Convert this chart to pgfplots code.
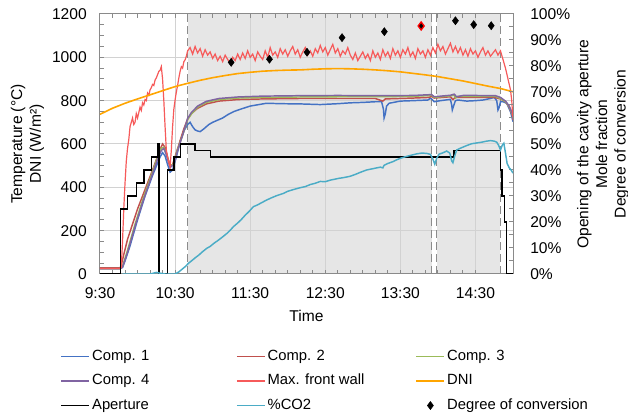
\documentclass[border=0pt]{standalone}
\usepackage{fontspec}
\setmainfont{Liberation Sans}
\usepackage{pgfplots}
\pgfplotsset{compat=1.18}

\definecolor{cone}{HTML}{4472C4}
\definecolor{ctwo}{HTML}{C0504D}
\definecolor{cthree}{HTML}{9BBB59}
\definecolor{cfour}{HTML}{8064A2}
\definecolor{cwall}{HTML}{F65A5A}
\definecolor{cdni}{HTML}{FFA500}
\definecolor{cco}{HTML}{4BACC6}
\definecolor{shade}{HTML}{E6E6E6}
\definecolor{gridc}{HTML}{D2D2D2}
\definecolor{framec}{HTML}{8A8A8A}
\definecolor{dashc}{HTML}{8C8C8C}

\begin{document}
\begin{tikzpicture}
\pgfplotsset{
  base/.style={
    width=309.75pt, height=195pt, scale only axis,
    xmin=0, xmax=330, ymin=0, ymax=1200,
    font=\fontsize{11.7}{14}\selectfont,
    /pgf/number format/assume math mode=true,
    /pgf/number format/1000 sep={},
    axis line style={framec, line width=0.75pt},
    tick style={framec, line width=0.75pt},
    tick align=inside,
    major tick length=3pt, minor tick length=3pt,
  },
  vdash/.style={dashc, line width=1.2pt, dash pattern=on 6pt off 3pt, forget plot},
}

% shaded periods (under the grid)
\begin{axis}[base, hide axis]
  \addplot[fill=shade, draw=none] coordinates {(70,0) (70,1200) (265,1200) (265,0)} -- cycle;
  \addplot[fill=shade, draw=none] coordinates {(269,0) (269,1200) (320,1200) (320,0)} -- cycle;
\end{axis}

\begin{axis}[base, name=main,
  xtick={0,60,...,300},
  xticklabels={9:30,10:30,11:30,12:30,13:30,14:30},
  minor x tick num=5,
  xtick pos=both,
  ytick={0,200,...,1200},
  minor y tick num=3,
  ytick pos=left,
  xmajorgrids, ymajorgrids,
  grid style={gridc, line width=0.75pt},
  xticklabel style={inner sep=0pt, yshift=-10pt},
  yticklabel style={inner sep=0pt, xshift=-9.75pt},
  xlabel={Time},
  xlabel style={at={(axis description cs:0.5,-0.1615)}, anchor=center},
  ylabel={Temperature (°C)\\DNI (W/m²)},
  ylabel style={at={(axis description cs:-0.1755,0.5)}, anchor=center, align=center},
  legend columns=3,
  legend cell align=left,
  legend image code/.code={\draw[mark repeat=2,mark phase=2,#1] plot coordinates {(0pt,0pt) (10.5pt,0pt) (21pt,0pt)};},
  legend style={at={(axis description cs:-0.0952,-0.29)}, anchor=north west,
    draw=none, fill=none, inner sep=0pt, outer sep=0pt,
    font=\fontsize{11.1}{13}\selectfont,
    nodes={inner sep=0pt, text height=8.2pt, text depth=2.4pt},
    row sep=7.8pt, column sep=1.5pt,
    /tikz/every even column/.append style={column sep=0pt}},
]
  \addplot[vdash] coordinates {(70,0) (70,1200)};
  \addplot[vdash] coordinates {(265,0) (265,1200)};
  \addplot[vdash] coordinates {(269,0) (269,1200)};
  \addplot[vdash] coordinates {(320,0) (320,1200)};

  % Comp. 1
  \addplot[cone, line width=1.1pt] coordinates {
    (0,25) (16,25) (18,30) (20,60) (24,130) (30,250) (36,360) (42,455) (48,540) (50,560)
    (52,545) (54,505) (56,470) (58,480) (61,540) (64,610) (67,660) (70,690) (72,700) (74,680)
    (76,665) (78,660) (80,657) (83,670) (85,680) (87,690) (90,700) (94,710) (98,720) (102,735)
    (107,750) (113,762) (120,775) (127,782) (133,788) (145,786) (160,785) (176,782) (190,786)
    (200,790) (210,792) (220,795) (225,795) (226.5,760) (227,720) (228,740) (229,775) (231,788)
    (240,798) (250,800) (262,803) (264,811) (265,808) (267,795) (272,800) (280,806) (281,780)
    (281.5,757) (282.5,775) (284,800) (286,803) (293,798) (300,800) (306,803) (312,810) (315,815)
    (317,800) (318,757) (319,770) (320,795) (322,795) (325,788) (328,749) (330,703)};
  \addlegendentry{\makebox[108pt][l]{Comp. 1}}
  % Comp. 2
  \addplot[ctwo, line width=1.1pt] coordinates {
    (0,28) (16,28) (17,40) (19,90) (22,160) (26,230) (30,300) (36,390) (42,480) (48,575)
    (50,600) (52,585) (54,540) (56,500) (58,505) (61,560) (64,615) (67,670) (70,715) (73,740)
    (78,765) (85,785) (95,798) (110,805) (130,808) (160,810) (190,810) (220,810) (226,798)
    (228,808) (250,812) (263,815) (265,820) (267,812) (280,818) (282,805) (284,815) (300,815)
    (315,815) (320,808) (324,795) (327,770) (330,725)};
  \addlegendentry{\makebox[111pt][l]{Comp. 2}}
  % Comp. 3
  \addplot[cthree, line width=1.1pt] coordinates {
    (0,25) (16,25) (18,35) (22,110) (28,230) (34,340) (40,440) (46,540) (49,580) (51,585)
    (53,555) (56,495) (59,510) (62,575) (66,640) (70,712) (73,738) (78,770) (85,792) (95,805)
    (110,812) (130,815) (160,817) (190,818) (220,818) (250,820) (264,824) (265,826) (267,815)
    (280,822) (283,826) (284,812) (286,820) (300,820) (316,820) (320,810) (324,795) (327,772)
    (330,728)};
  \addlegendentry{Comp. 3}
  % Comp. 4
  \addplot[cfour, line width=1.1pt] coordinates {
    (0,25) (16,25) (18,32) (22,100) (28,220) (34,330) (40,430) (46,530) (49,570) (51,580)
    (53,550) (56,492) (59,505) (62,570) (66,640) (70,718) (73,745) (78,775) (85,797) (95,810)
    (110,817) (130,821) (160,823) (190,824) (220,823) (250,824) (265,828) (267,818) (280,825)
    (283,830) (285,818) (290,824) (300,824) (316,823) (320,815) (324,798) (327,775) (330,732)};
  \addlegendentry{Comp. 4}
  % Max. front wall
  \addplot[cwall, line width=0.9pt] coordinates {
    (0,25) (16,25) (17,30) (18,150) (19,300) (20,420) (21,520) (22,580) (23,620) (24,680)
    (25,700) (26,720) (27,690) (28,700) (29,740) (30,720) (31,745) (32,770) (33,755) (34,790)
    (35,780) (36,805) (37,800) (38,835) (39,825) (40,850) (41,860) (42,875) (43,870) (44,895)
    (45,905) (46,920) (47,935) (48,940) (49,957) (50,900) (51,800) (52,680) (53,572) (54,540)
    (55,515) (56,495) (57,572) (58,680) (59,760) (60,803) (61,840) (62,870) (63,905) (64,935)
    (65,957) (66,950) (67,980) (68,988) (69,1005) (70,1030)
    (72,1045) (74,1015) (76,1050) (78,1020) (80,1040) (82,1005) (84,1035) (86,1010) (88,1025)
    (90,995) (92,1015) (94,985) (96,1005) (98,980) (100,1010) (102,990) (104,975) (106,1000)
    (108,985) (110,1015) (112,990) (114,1020) (116,995) (118,1030) (120,1000) (122,1015)
    (124,985) (126,1025) (128,1005) (130,990) (132,1030) (134,1000) (136,1045) (138,1010)
    (140,1025) (142,1000) (144,1040) (146,1015) (148,1035) (150,1005) (152,1030) (154,1050)
    (156,1015) (158,1035) (160,1000) (162,1025) (164,1045) (166,1010) (168,1030) (170,1005)
    (172,1040) (174,1020) (176,1055) (178,1025) (180,1045) (182,1010) (184,1035) (186,1060)
    (188,1020) (190,1040) (192,1005) (194,1030) (196,1015) (198,1045) (200,1010) (202,990)
    (204,1020) (206,985) (208,1005) (210,1025) (212,995) (214,1015) (216,985) (218,1030)
    (220,1000) (222,1020) (224,990) (226,1035) (228,1005) (230,1025) (232,995) (234,1040)
    (236,1010) (238,1030) (240,1000) (242,1035) (244,1015) (246,1045) (248,1005) (250,1025)
    (252,995) (254,1040) (256,1015) (258,1030) (260,1000) (262,1035) (264,1010) (266,1045)
    (268,1020) (270,1060) (272,1030) (274,1050) (276,1015) (278,1040) (280,1065) (282,1025)
    (284,1050) (286,1020) (288,1045) (290,1010) (292,1035) (294,1005) (296,1040) (298,1015)
    (300,1030) (302,1000) (304,1025) (306,1045) (308,1010) (310,1030) (312,1005) (314,1020)
    (316,1035) (318,1010) (320,1030) (322,990) (324,950) (326,900) (328,850) (329,800) (330,710)};
  \addlegendentry{\makebox[111pt][l]{Max. front wall}}
  % DNI
  \addplot[cdni, line width=1.2pt] coordinates {
    (0,737) (10,765) (20,788) (30,808) (40,827) (50,846) (60,865) (70,880) (80,894) (90,906)
    (100,916) (110,925) (120,931) (130,936) (140,939) (150,941) (160,942) (170,945) (180,947)
    (190,948) (200,947) (210,945) (220,942) (230,938) (240,933) (250,926) (260,919) (270,911)
    (280,901) (290,891) (300,879) (310,867) (320,856) (330,841)};
  \addlegendentry{DNI}
  \addlegendimage{black, line width=1.1pt}
  \addlegendentry{Aperture}
  \addlegendimage{cco, line width=1.1pt}
  \addlegendentry{\%CO2}
  \addlegendimage{only marks, mark=diamond*, mark size=3pt, black}
  \addlegendentry{Degree of conversion}
\end{axis}

\begin{axis}[base, ymax=100,
  axis x line=none,
  axis y line*=right,
  axis line style={-},
  ytick={0,10,...,100},
  minor y tick num=1,
  yticklabel={\pgfmathprintnumber{\tick}\%},
  yticklabel style={inner sep=0pt, xshift=12.75pt, anchor=west},
  ylabel={Opening of the cavity aperture\\Mole fraction\\Degree of conversion},
  ylabel style={at={(axis description cs:1.218,0.5)}, anchor=center, align=center},
]
  % Aperture
  \addplot[black, line width=1.1pt, const plot] coordinates {
    (0,0) (16.5,25) (22,30) (29.3,35) (35.2,40) (41.3,45) (46.5,50) (47.3,0) (53.9,40)
    (59.2,45) (64.5,50) (76,47.5) (88.5,45) (282.7,47.5) (320,40) (321.3,30) (323.2,20)
    (324.8,0) (330,0)};
  % %CO2
  \addplot[cco, line width=1.1pt] coordinates {
    (18,0) (40,0) (45,0.6) (48,0.3) (52,0) (60,0) (63,0.8) (66,2) (68.5,3) (70.6,4.1) (73,5)
    (76,6.2) (79,7.3) (82,8.6) (85.4,9.9) (88,10.6) (91,11.8) (94,12.8) (97,13.9) (101.4,15.6)
    (104,16.8) (106.6,18.2) (110,19.6) (113,21) (116,22.6) (119,24) (122.6,25.9) (126,26.6)
    (129,27.4) (133.4,28.5) (137,29.3) (141,30.1) (146.6,31) (150,31.8) (154,32.4) (160,33.2)
    (164,33.6) (168,34.4) (172,34.9) (176,35.6) (180,35.5) (184,36.1) (187,36.4) (191,36.8)
    (195,37.1) (200,37.6) (204,38.3) (208,39.1) (213,40) (217,40.4) (221,40.8) (224,41.1)
    (226,40.8) (227,41.8) (230,42.5) (234,43.2) (237,43.9) (240,44.5) (244,45.1) (248,45.6)
    (253,46.2) (257,46.5) (261,46.4) (264,46.0) (266,44.2) (267.5,42.2) (269,44.5) (271,46.1)
    (274,46.6) (277,47.3) (279.5,46.5) (281,43.5) (282,42.8) (283.5,45.5) (285,47.7) (289,48.6)
    (293,49.4) (297,50.1) (301,50.4) (305,50.7) (309,51.1) (312,51.3) (315,51.1) (317,50.7)
    (318.5,49.5) (320,47.7) (321.5,49.6) (322.7,50.3) (324,46.5) (325.3,42.5) (327,40.8)
    (328.5,40) (330,38.8)};
  % Degree of conversion
  \addplot[only marks, mark=diamond*, mark size=3pt, black] coordinates {
    (104.8,81.4) (135.4,82.6) (165.4,85.3) (193.4,90.9) (227.2,93.2) (284,97.4) (298.6,95.9)
    (312.6,95.5)};
  \addplot[only marks, mark=diamond*, mark size=3pt, mark options={draw=red, fill=black, line width=1pt}] coordinates {
    (256.6,95.4)};
\end{axis}

\pgfresetboundingbox
\path[use as bounding box] ([xshift=-75pt,yshift=-106.5pt]main.south west) rectangle ([xshift=86.25pt,yshift=10.5pt]main.north east);
\end{tikzpicture}
\end{document}
